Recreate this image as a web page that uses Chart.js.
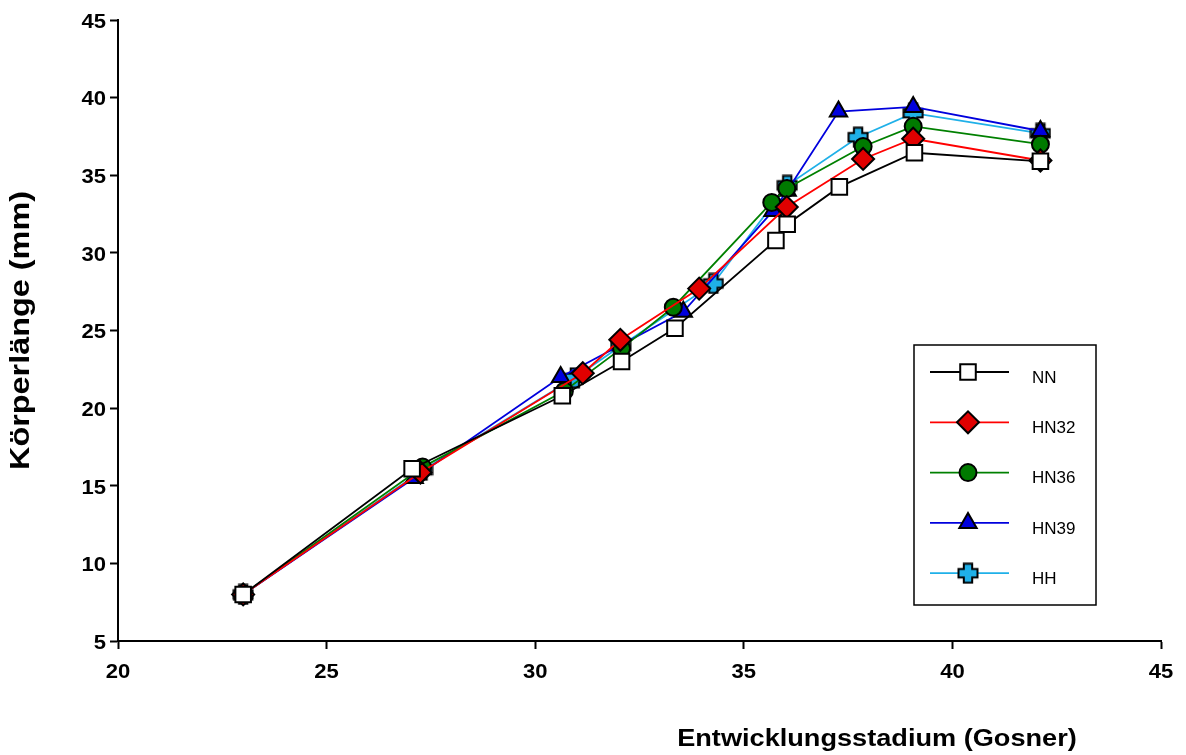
<!DOCTYPE html>
<html>
<head>
<meta charset="utf-8">
<script src="https://cdn.jsdelivr.net/npm/chart.js@4.4.1/dist/chart.umd.min.js"></script>
<style>
html,body{margin:0;padding:0;background:#fff;}
#wrap{width:1186px;height:755px;}
</style>
</head>
<body>
<div id="wrap"><canvas id="koerperChart" width="1186" height="755"></canvas></div>
<script>
// Gosner stage (x) and body length in mm (y), one pair of arrays per group
const nnX   = [23.0, 27.05, 30.65, 32.07, 33.35, 35.77, 36.04, 37.29, 39.09, 42.11];
const nnY   = [8.0, 16.1, 20.8, 23.0, 25.15, 30.8, 31.85, 34.25, 36.45, 35.9];
const hn32X = [23.0, 27.25, 31.14, 32.04, 33.93, 36.03, 37.86, 39.06, 42.11];
const hn32Y = [8.0, 15.85, 22.25, 24.4, 27.7, 32.95, 36.05, 37.35, 35.95];
const hn36X = [23.0, 27.3, 30.7, 32.07, 33.31, 35.67, 36.03, 37.86, 39.06, 42.11];
const hn36Y = [8.0, 16.2, 21.1, 23.85, 26.5, 33.25, 34.15, 36.85, 38.15, 37.0];
const hn39X = [23.0, 27.1, 30.61, 33.55, 35.7, 36.04, 37.27, 39.06, 42.11];
const hn39Y = [8.0, 15.5, 22.0, 26.2, 32.7, 34.0, 39.1, 39.4, 37.85];
const hhX   = [23.0, 27.3, 30.95, 32.05, 34.27, 36.04, 37.74, 39.06, 42.11];
const hhY   = [8.0, 16.0, 21.95, 24.0, 28.03, 34.35, 37.45, 39.0, 37.7];

const seriesNames = ['NN', 'HN32', 'HN36', 'HN39', 'HH'];
const xTicks = [20, 25, 30, 35, 40, 45];
const yTicks = [5, 10, 15, 20, 25, 30, 35, 40, 45];
const xTitle = 'Entwicklungsstadium (Gosner)';
const yTitle = 'Körperlänge (mm)';

const FONT = '"Liberation Sans", Arial, Helvetica, sans-serif';

function pts(xs, ys) {
  return xs.map((x, i) => ({ x: x, y: ys[i] }));
}

// fat plus marker for HH
function makePlus(size, fill) {
  const c = document.createElement('canvas');
  c.width = size; c.height = size;
  const g = c.getContext('2d');
  const m = size / 2, a = size * 0.19, o = size / 2 - 1.5;
  g.beginPath();
  g.moveTo(m - a, m - o); g.lineTo(m + a, m - o); g.lineTo(m + a, m - a);
  g.lineTo(m + o, m - a); g.lineTo(m + o, m + a); g.lineTo(m + a, m + a);
  g.lineTo(m + a, m + o); g.lineTo(m - a, m + o); g.lineTo(m - a, m + a);
  g.lineTo(m - o, m + a); g.lineTo(m - o, m - a); g.lineTo(m - a, m - a);
  g.closePath();
  g.fillStyle = fill;
  g.fill();
  g.lineWidth = 2;
  g.strokeStyle = '#000';
  g.stroke();
  return c;
}
const plusImg = makePlus(22, '#1fb0e8');

// dataset 0 ends up on top, as in the source (squares over diamonds over circles ...)
const datasets = [
  { label: 'NN',   data: pts(nnX, nnY),     borderColor: '#000000', pointStyle: 'rect',     pointRadius: 11,   pointBackgroundColor: '#ffffff' },
  { label: 'HN32', data: pts(hn32X, hn32Y), borderColor: '#ff0000', pointStyle: 'rectRot',  pointRadius: 11,   pointBackgroundColor: '#e00000' },
  { label: 'HN36', data: pts(hn36X, hn36Y), borderColor: '#008000', pointStyle: 'circle',   pointRadius: 8.5,  pointBackgroundColor: '#007a00' },
  { label: 'HN39', data: pts(hn39X, hn39Y), borderColor: '#0000dd', pointStyle: 'triangle', pointRadius: 10,   pointBackgroundColor: '#0000dd' },
  { label: 'HH',   data: pts(hhX, hhY),     borderColor: '#1fb0e8', pointStyle: plusImg,    pointRadius: 11,   pointBackgroundColor: '#1fb0e8' }
];
datasets.forEach(d => {
  d.borderWidth = 1.8;
  d.pointBorderColor = '#000';
  d.pointBorderWidth = 2;
  d.pointHoverRadius = d.pointRadius;
  d.tension = 0;
  d.fill = false;
});

// text in the source is drawn wide, so it is stretched along its baseline
function wideText(ctx, text, x, y, align, sx, rot) {
  ctx.save();
  ctx.translate(x, y);
  if (rot) ctx.rotate(rot);
  ctx.scale(sx, 1);
  ctx.textAlign = align;
  ctx.fillText(text, 0, 0);
  ctx.restore();
}

const textAndLegend = {
  id: 'textAndLegend',
  afterDraw(chart) {
    const ctx = chart.ctx, ca = chart.chartArea;
    const xs = chart.scales.x, ys = chart.scales.y;
    ctx.save();
    ctx.fillStyle = '#000';
    ctx.textBaseline = 'middle';

    // tick labels
    ctx.font = 'bold 21px ' + FONT;
    xTicks.forEach(v => wideText(ctx, String(v), xs.getPixelForValue(v), ca.bottom + 31, 'center', 1.05));
    yTicks.forEach(v => wideText(ctx, String(v), ca.left - 12, ys.getPixelForValue(v) + 2, 'right', 1.05));

    // axis titles
    ctx.font = 'bold 23px ' + FONT;
    wideText(ctx, xTitle, ca.right - 284, 740, 'center', 1.18);
    ctx.font = 'bold 27px ' + FONT;
    wideText(ctx, yTitle, 22, (ca.top + ca.bottom) / 2, 'center', 1.2, -Math.PI / 2);

    // legend box
    const bx = ca.right - 247, by = ca.top + 325, bw = 182, bh = 260;
    ctx.lineWidth = 1.5;
    ctx.strokeStyle = '#000';
    ctx.strokeRect(bx, by, bw, bh);
    ctx.font = '17px ' + FONT;
    ctx.textAlign = 'left';
    seriesNames.forEach((name, i) => {
      const ds = chart.data.datasets[i];
      const y = by + 27 + i * 50.3;
      ctx.strokeStyle = ds.borderColor;
      ctx.lineWidth = 1.8;
      ctx.beginPath();
      ctx.moveTo(bx + 16, y);
      ctx.lineTo(bx + 95, y);
      ctx.stroke();
      ctx.fillStyle = ds.pointBackgroundColor;
      ctx.strokeStyle = '#000';
      ctx.lineWidth = 2;
      Chart.helpers.drawPoint(ctx, { pointStyle: ds.pointStyle, radius: ds.pointRadius, rotation: 0, borderWidth: 2 }, bx + 54, y);
      ctx.fillStyle = '#000';
      ctx.fillText(name, bx + 118, y + 6);
    });
    ctx.restore();
  }
};

const axisGrid = { drawOnChartArea: false, tickLength: 8, tickColor: '#000', tickWidth: 2 };

new Chart(document.getElementById('koerperChart'), {
  type: 'line',
  data: { datasets: datasets },
  plugins: [textAndLegend],
  options: {
    responsive: false,
    animation: false,
    events: [],
    layout: { padding: { top: 20, right: 25, left: 0, bottom: 0 } },
    plugins: { legend: { display: false }, tooltip: { enabled: false } },
    scales: {
      x: {
        type: 'linear',
        min: xTicks[0], max: xTicks[xTicks.length - 1],
        afterBuildTicks: s => { s.ticks = xTicks.map(v => ({ value: v })); },
        afterFit: s => { s.height = 114; },
        ticks: { display: false },
        grid: axisGrid,
        border: { color: '#000', width: 2 }
      },
      y: {
        type: 'linear',
        min: yTicks[0], max: yTicks[yTicks.length - 1],
        afterBuildTicks: s => { s.ticks = yTicks.map(v => ({ value: v })); },
        afterFit: s => { s.width = 118; },
        ticks: { display: false },
        grid: axisGrid,
        border: { color: '#000', width: 2 }
      }
    }
  }
});
</script>
</body>
</html>
